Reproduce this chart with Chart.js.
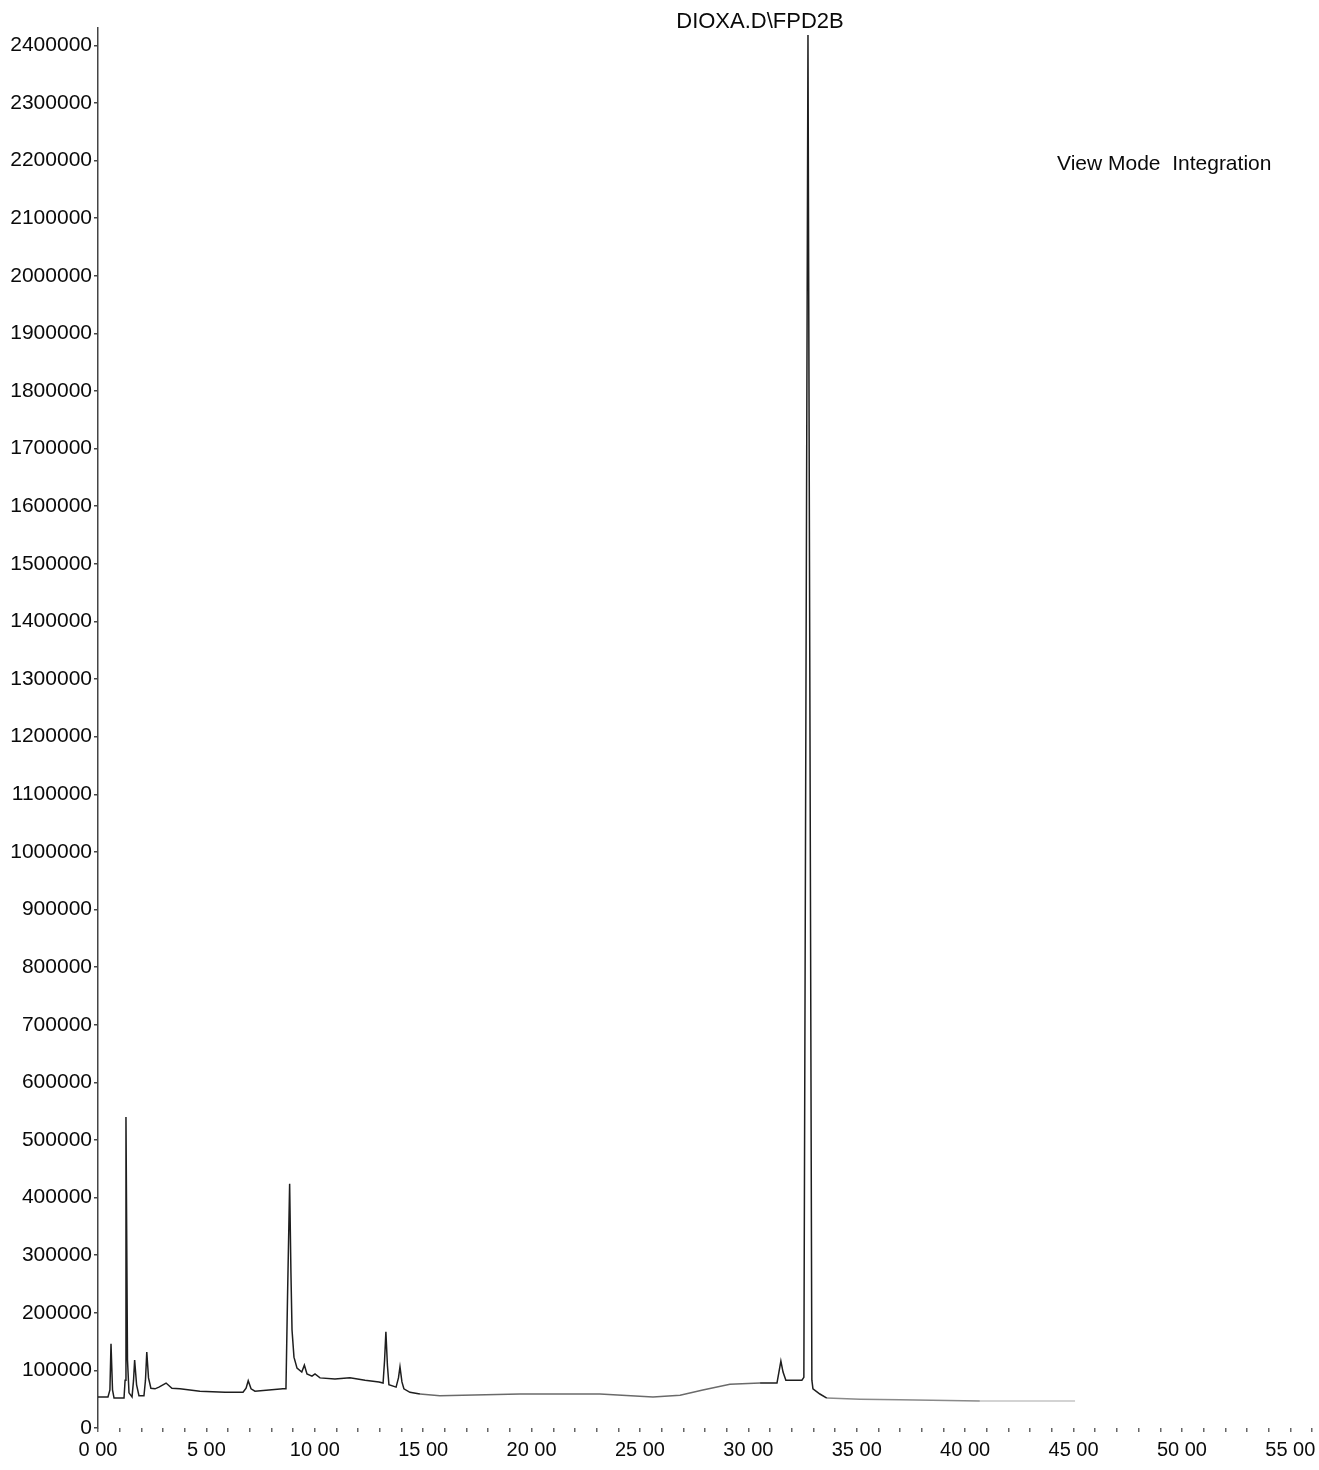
<!DOCTYPE html>
<html>
<head>
<meta charset="utf-8">
<title>DIOXA.D\FPD2B</title>
<script src="https://cdn.jsdelivr.net/npm/chart.js@4.4.1/dist/chart.umd.min.js"></script>
<style>
  html, body { margin: 0; padding: 0; background: #ffffff; }
  #wrap { position: relative; width: 1319px; height: 1470px; }
  #fpd { display: block; }
</style>
</head>
<body>
<div id="wrap"><canvas id="fpd" width="1319" height="1470"></canvas></div>
<script>
// FPD signal trace: retention time (min) and detector response (counts)
const retentionTimes = [
  0.00, 0.46, 0.55, 0.60, 0.67, 0.74,
  1.20, 1.25, 1.29, 1.36, 1.43,
  1.57, 1.64, 1.69, 1.78, 1.89,
  2.12, 2.19, 2.25, 2.33, 2.44, 2.63, 2.81, 3.14, 3.41, 3.78,
  4.70, 5.86, 6.69, 6.83, 6.93, 7.06, 7.24,
  8.53, 8.67, 8.74, 8.84, 8.90, 8.95, 9.04, 9.18, 9.40, 9.52, 9.64,
  9.87, 10.01, 10.24, 10.93, 11.62, 12.32, 12.96,
  13.15, 13.22, 13.28, 13.35, 13.42, 13.75, 13.86, 13.93, 14.02, 14.11,
  14.39, 14.85, 15.77, 19.46, 23.15, 25.60, 26.85, 27.90, 29.15, 30.54,
  31.32, 31.41, 31.50, 31.60, 31.73, 32.47, 32.56, 32.75, 32.93, 32.98,
  33.30, 33.62, 35.15, 36.99, 40.68, 45.07
];
const detectorCounts = [
  54000, 54000, 66000, 146000, 66000, 52000,
  52000, 83000, 540000, 118000, 61000,
  54000, 83000, 118000, 75000, 56000,
  56000, 83000, 132000, 87000, 69000, 68000, 71000, 78000, 69000, 68000,
  64000, 62000, 62000, 69000, 82000, 68000, 64000,
  68000, 68000, 222000, 424000, 269000, 170000, 123000, 104000, 97000, 109000, 94000,
  90000, 94000, 87000, 85000, 87000, 83000, 80000,
  78000, 118000, 167000, 109000, 75000, 71000, 87000, 106000, 80000, 68000,
  62000, 59000, 56000, 59000, 59000, 54000, 57000, 66000, 76000, 78000,
  78000, 97000, 116000, 97000, 83000, 83000, 88000, 2418000, 83000, 68000,
  59000, 52000, 50000, 49000, 47000, 47000
];

// Axis tick settings
const xTickMinutes = [0, 5, 10, 15, 20, 25, 30, 35, 40, 45, 50, 55];
const yStep = 100000;
const yTop = 2430000;

const chartTitle = 'DIOXA.D\\FPD2B';
const modeCaption = 'View Mode  Integration';

const points = retentionTimes.map((t, i) => ({ x: t, y: detectorCounts[i] }));

const FONT = "'Liberation Sans', Arial, Helvetica, sans-serif";

// Title and mode caption drawn on top of the plot
const captionPlugin = {
  id: 'captions',
  afterDraw(chart) {
    const ctx = chart.ctx;
    ctx.save();
    ctx.fillStyle = '#0a0a0a';
    ctx.textBaseline = 'alphabetic';
    ctx.font = '22px ' + FONT;
    ctx.textAlign = 'center';
    ctx.fillText(chartTitle, 760, 28);
    ctx.textAlign = 'left';
    ctx.font = '21px ' + FONT;
    ctx.fillText(modeCaption, 1057, 170);
    ctx.restore();
  }
};

// Trace shade: darker near the peaks, fainter along the late baseline
function segColor(ctx) {
  const t = ctx.p0.parsed.x;
  if (t >= 40) return '#c4c4c4';
  if (t >= 33.6) return '#8a8a8a';
  if (t >= 14.8 && t < 29.5) return '#6a6a6a';
  return '#1e1e1e';
}

new Chart(document.getElementById('fpd'), {
  type: 'line',
  data: {
    datasets: [{
      data: points,
      borderColor: '#1e1e1e',
      borderWidth: 1.5,
      pointRadius: 0,
      tension: 0,
      fill: false,
      segment: { borderColor: segColor }
    }]
  },
  options: {
    responsive: false,
    animation: false,
    devicePixelRatio: 1,
    layout: { padding: { top: 28, right: 7, bottom: 0, left: 0 } },
    plugins: {
      legend: { display: false },
      title: { display: false },
      tooltip: { enabled: false }
    },
    scales: {
      x: {
        type: 'linear',
        min: 0,
        max: 56,
        afterFit(scale) { scale.height = 42; },
        border: { display: false },
        grid: {
          display: true,
          drawOnChartArea: false,
          drawTicks: true,
          tickLength: 4,
          color: '#666',
          lineWidth: 1.5
        },
        ticks: {
          stepSize: 1,
          autoSkip: false,
          maxRotation: 0,
          padding: 6,
          color: '#0a0a0a',
          font: { family: FONT, size: 20 },
          callback: (v) => xTickMinutes.includes(v) ? v + ' 00' : ''
        }
      },
      y: {
        type: 'linear',
        min: 0,
        max: yTop,
        afterFit(scale) { scale.width = 98; },
        afterBuildTicks(scale) {
          const ticks = [];
          for (let v = 0; v <= yTop; v += yStep) ticks.push({ value: v });
          scale.ticks = ticks;
        },
        border: { display: true, color: '#444', width: 1.5 },
        grid: {
          display: true,
          drawOnChartArea: false,
          drawTicks: true,
          tickLength: 4,
          color: '#444',
          lineWidth: 1.5
        },
        ticks: {
          autoSkip: false,
          padding: 2,
          color: '#0a0a0a',
          font: { family: FONT, size: 21 },
          callback: (v) => String(Math.round(v))
        }
      }
    }
  },
  plugins: [captionPlugin]
});
</script>
</body>
</html>
